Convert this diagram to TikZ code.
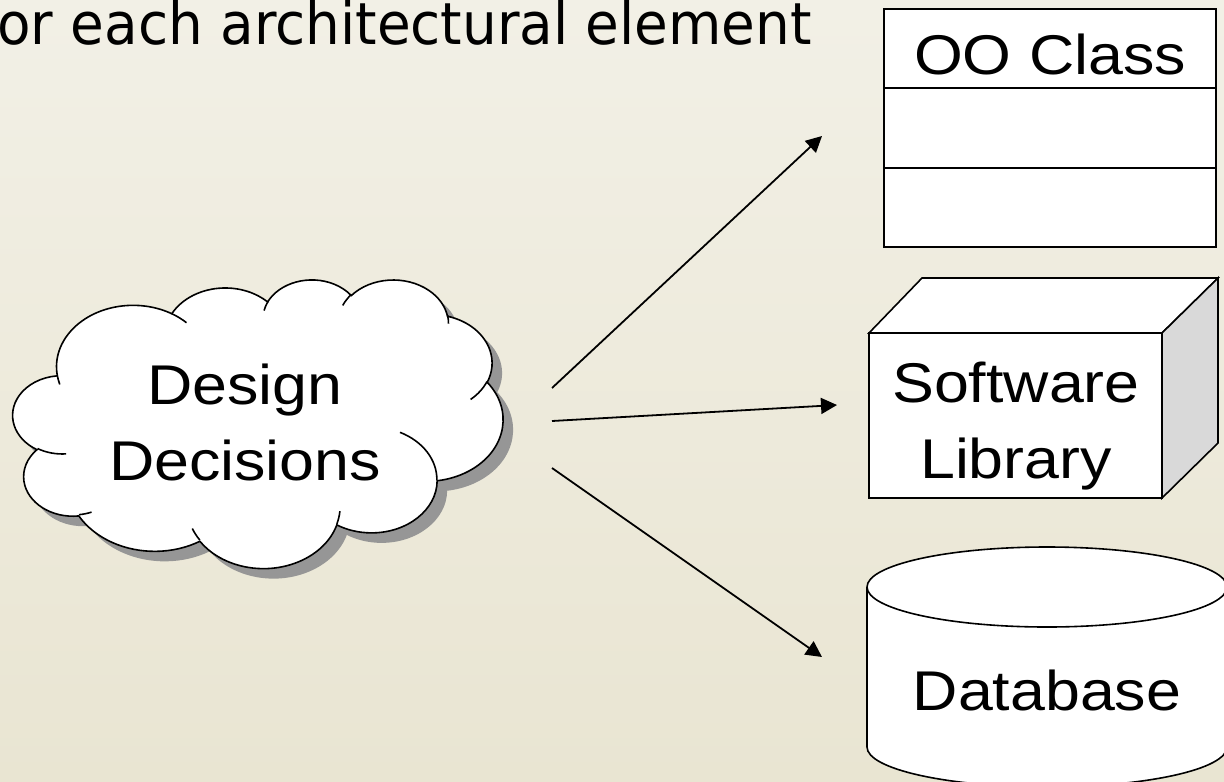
\documentclass[tikz,border=0pt]{standalone}
\usepackage{fontspec}
\setmainfont{Liberation Sans}
\newfontfamily\labelfont[FakeStretch=1.12]{Liberation Sans}
\newfontfamily\headfont[FakeStretch=0.945]{DejaVu Sans}
\usetikzlibrary{arrows.meta}

\definecolor{bgtop}{HTML}{F2F0E6}
\definecolor{bgbot}{HTML}{E9E5D2}
\definecolor{shadowgray}{HTML}{969696}
\definecolor{sidegray}{HTML}{D9D9D9}

% elliptic arc given by radii, start angle and sweep, where the angles are
% measured geometrically from the ellipse centre (converted to parametric ones)
\newcommand\cloudarc[4]{arc[start angle={atan2((#1)*sin(#3),(#2)*cos(#3))},
  delta angle={mod(atan2((#1)*sin((#3)+(#4)),(#2)*cos((#3)+(#4)))-atan2((#1)*sin(#3),(#2)*cos(#3))+720,360)},
  x radius=#1, y radius=#2]}

% cloud outline in a 432 x 432 box
\newcommand\cloudoutline{(39.00,143.70)
  \cloudarc{67.53}{91.90}{-190.48748}{123.78053}
  \cloudarc{53.33}{72.67}{-144.10238}{89.94523}
  \cloudarc{43.65}{59.45}{-145.80792}{99.72302}
  \cloudarc{48.57}{65.95}{-130.98607}{117.24173}
  \cloudarc{53.33}{72.73}{-78.70888}{109.02692}
  \cloudarc{67.75}{92.20}{-46.26725}{130.26900}
  \cloudarc{57.85}{78.67}{0.62502}{114.03333}
  \cloudarc{67.52}{92.15}{22.45160}{115.17255}
  \cloudarc{77.20}{105.43}{66.24263}{75.71102}
  \cloudarc{43.60}{59.18}{-274.94208}{146.73557}
  \cloudarc{43.45}{59.45}{-246.82850}{152.51885} -- cycle}

% short inner strokes where the puffs overlap
\newcommand\cloudcreases{
  (46.93,261.77) \cloudarc{43.45}{59.45}{86.74200}{26.42950}
  (69.28,348.99) \cloudarc{43.60}{59.18}{73.61047}{11.44747}
  (164.78,390.90) \cloudarc{67.52}{92.15}{137.62415}{14.08110}
  (288.27,347.51) \cloudarc{67.52}{92.15}{6.45327}{15.99835}
  (341.29,229.54) \cloudarc{57.85}{78.67}{-70.29235}{70.91737}
  (417.98,153.54) \cloudarc{53.33}{72.73}{30.31803}{27.75150}
  (383.24,54.26) \cloudarc{48.57}{65.95}{-13.74433}{14.85890}
  (290.78,39.52) \cloudarc{48.57}{65.95}{-149.18145}{18.19537}
  (221.41,47.20) \cloudarc{43.65}{59.45}{-163.49427}{17.68635}
  (140.00,51.92) \cloudarc{67.53}{91.90}{-66.70695}{12.31935}
  (41.27,157.89) \cloudarc{67.53}{91.90}{157.65435}{11.85817}}

\tikzset{
  shape line/.style={draw=black, line width=0.8pt, line join=miter},
  label text/.style={inner sep=0pt, align=center,
    font=\labelfont\fontsize{28}{38}\selectfont},
  link/.style={draw=black, line width=0.9pt,
    -{Triangle[length=8pt, width=8pt]}},
  cloud box/.style={xscale=1.134, yscale=0.668},
}

\begin{document}
\begin{tikzpicture}[x=0.5pt, y=-0.5pt]
  % page background
  \shade[top color=bgtop, bottom color=bgbot] (0,0) rectangle (1224,781);
  \useasboundingbox (0,0) rectangle (1224,781);

  % heading line
  \node[anchor=base west, inner sep=0pt,
        font=\headfont\fontsize{29}{35}\selectfont] (heading) at (-3,45)
        {or each architectural element};

  % cloud with its drop shadow
  \begin{scope}[shift={(23,289)}, cloud box]
    \fill[shadowgray] \cloudoutline;
  \end{scope}
  \begin{scope}[shift={(13,279)}, cloud box]
    \path[shape line, fill=white] \cloudoutline;
    \draw[line width=0.8pt] \cloudcreases;
  \end{scope}
  \node[label text, anchor=base] (design) at (245,480) {Design\\Decisions};

  % class box with three compartments
  \draw[shape line, fill=white] (884,9) rectangle (1216,247);
  \draw[shape line] (884,88) -- (1216,88);
  \draw[shape line] (884,168) -- (1216,168);
  \node[label text, anchor=base] (ooclass) at (1050,75) {OO Class};

  % library cube
  \draw[shape line, fill=white] (869,333) -- (922,278) -- (1218,278) -- (1162,333) -- cycle;
  \draw[shape line, fill=sidegray] (1162,333) -- (1218,278) -- (1218,443) -- (1162,498) -- cycle;
  \draw[shape line, fill=white] (869,333) rectangle (1162,498);
  \node[label text, anchor=base] (library) at (1016,478) {Software\\Library};

  % database cylinder
  \draw[shape line, fill=white] (867,587) -- (867,747)
     arc[start angle=180, end angle=0, x radius=180, y radius=40]
     -- (1227,587);
  \draw[shape line, fill=white] (1047,587) ellipse[x radius=180, y radius=40];
  \node[label text, anchor=base] (database) at (1047,710) {Database};

  % arrow end points
  \coordinate (fromA) at (552,388);
  \coordinate (fromB) at (552,421);
  \coordinate (fromC) at (552,468);
  \coordinate (toA) at (822,136);
  \coordinate (toB) at (837,405);
  \coordinate (toC) at (822,657);

  \draw[link] (fromA) -- (toA);
  \draw[link] (fromB) -- (toB);
  \draw[link] (fromC) -- (toC);
\end{tikzpicture}
\end{document}
